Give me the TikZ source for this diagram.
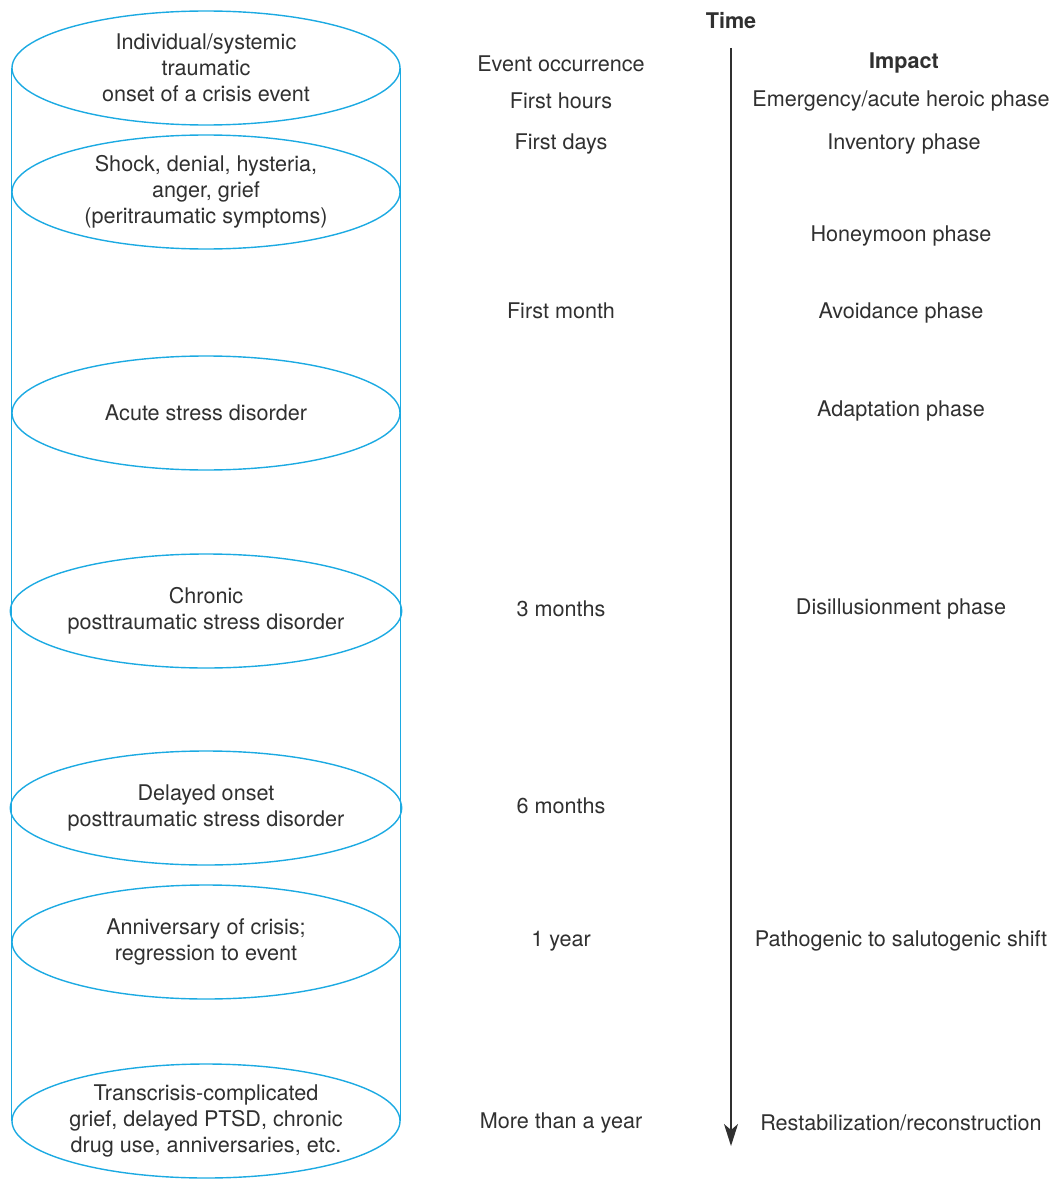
\documentclass[tikz,border=0pt]{standalone}
\usepackage{fontspec}
\setmainfont{TeX Gyre Heros}
\usetikzlibrary{shapes.geometric,arrows.meta}
\definecolor{cyl}{HTML}{1CAAE2}
\definecolor{txt}{HTML}{303030}
\begin{document}
\begin{tikzpicture}[x=1pt,y=-1pt,
  every node/.style={text=txt,font=\fontsize{21.6}{26}\selectfont,inner sep=0pt},
  phase/.style={ellipse,draw=cyl,line width=1.4pt,minimum width=388pt,minimum height=114pt,align=center},
  lbl/.style={anchor=center},
  head/.style={font=\fontsize{21.6}{26}\selectfont\bfseries}]
\useasboundingbox (0,0) rectangle (1054,1180);
% cylinder ellipses
\node[phase] (e1) at (206,68) {Individual/systemic\\traumatic\\onset of a crisis event};
\node[phase] (e2) at (206,192) {Shock, denial, hysteria,\\anger, grief\\(peritraumatic symptoms)};
\node[phase] (e3) at (206,413) {Acute stress disorder};
\node[phase] (e4) at (206,611) {Chronic\\posttraumatic stress disorder};
\node[phase] (e5) at (206,808) {Delayed onset\\posttraumatic stress disorder};
\node[phase] (e6) at (206,942) {Anniversary of crisis;\\regression to event};
\node[phase] (e7) at (206,1121) {Transcrisis-complicated\\grief, delayed PTSD, chronic\\drug use, anniversaries, etc.};
\draw[cyl,line width=1.4pt] (e1.west) -- (e7.west);
\draw[cyl,line width=1.4pt] (e1.east) -- (e7.east);
% time axis
\node[head] (time) at (731,21) {Time};
\coordinate (ta) at (731,48);
\coordinate (tb) at (731,1146);
\draw[line width=1.4pt,draw=txt,-{Stealth[length=22pt,width=14pt,inset=6pt]}] (ta) -- (tb);
% time labels
\node[lbl] (t1) at (561,64) {Event occurrence};
\node[lbl] (t2) at (561,101) {First hours};
\node[lbl] (t3) at (561,144) {First days};
\node[lbl] (t4) at (561,311) {First month};
\node[lbl] (t5) at (561,609) {3 months};
\node[lbl] (t6) at (561,806) {6 months};
\node[lbl] (t7) at (561,941) {1 year};
\node[lbl] (t8) at (561,1123) {More than a year};
% impact labels
\node[head] (imp) at (904,63) {Impact};
\node[lbl] (i1) at (901,101) {Emergency/acute heroic phase};
\node[lbl] (i2) at (904,144) {Inventory phase};
\node[lbl] (i3) at (901,236) {Honeymoon phase};
\node[lbl] (i4) at (901,313) {Avoidance phase};
\node[lbl] (i5) at (901,411) {Adaptation phase};
\node[lbl] (i6) at (901,609) {Disillusionment phase};
\node[lbl] (i7) at (901,941) {Pathogenic to salutogenic shift};
\node[lbl] (i8) at (901,1123) {Restabilization/reconstruction};
\end{tikzpicture}
\end{document}
